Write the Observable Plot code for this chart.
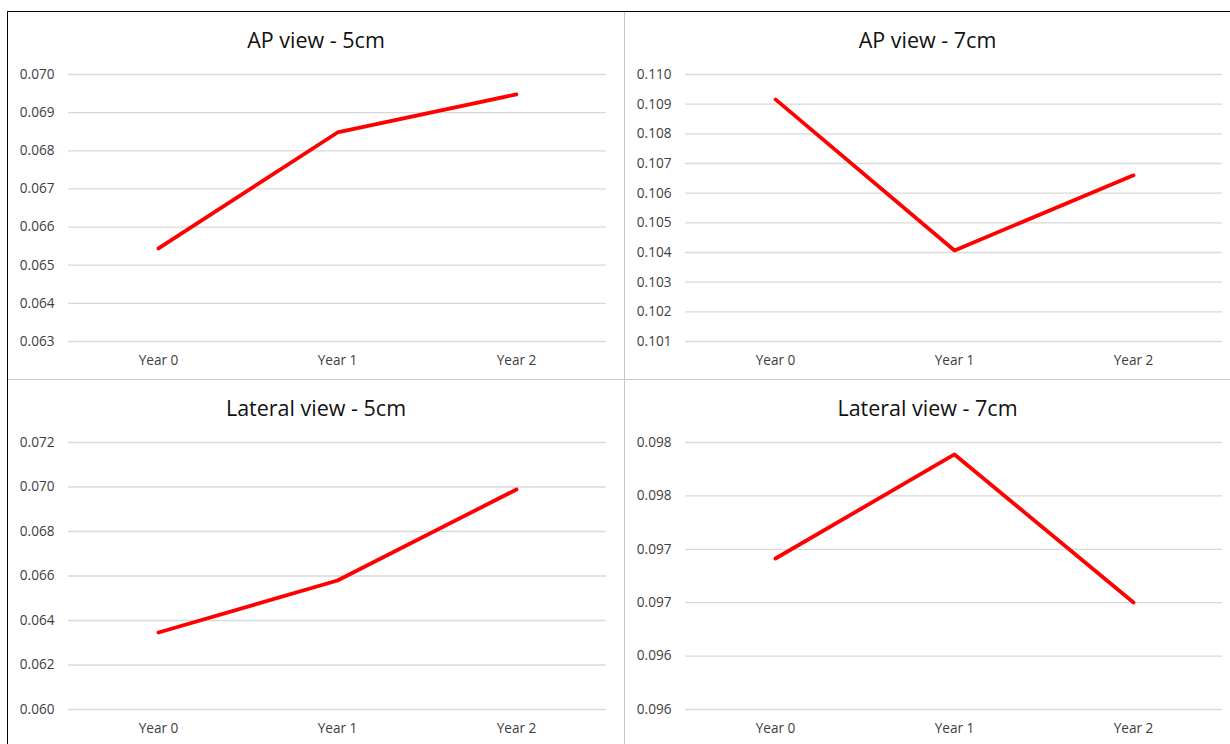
<!DOCTYPE html>
<html>
<head>
<meta charset="utf-8">
<script src="https://cdn.jsdelivr.net/npm/d3@7"></script>
<script src="https://cdn.jsdelivr.net/npm/@observablehq/plot@0.6"></script>
<style>
  html, body { margin: 0; padding: 0; background: #fff; }
  #page { position: relative; width: 1230px; height: 744px; overflow: hidden; background: #fff; font-family: "Open Sans", sans-serif; }
  .panel { position: absolute; }
  .title { position: absolute; left: 0; right: 0; text-align: center; font-size: 21.5px; line-height: 29px; color: #111; white-space: nowrap; }
  .rule { position: absolute; }
  svg { display: block; position: absolute; }
</style>
</head>
<body>
<div id="page"></div>
<script>
// ---- data ----
const categories = ["Year 0", "Year 1", "Year 2"];

const titles = ["AP view - 5cm", "AP view - 7cm", "Lateral view - 5cm", "Lateral view - 7cm"];

const apView5 = [0.06544, 0.06848, 0.06948];
const apView7 = [0.10916, 0.10407, 0.10660];
const latView5 = [0.06346, 0.06580, 0.06989];
const latView7 = [0.096914, 0.097888, 0.096502];

const apView5Ticks = [0.063, 0.064, 0.065, 0.066, 0.067, 0.068, 0.069, 0.070];
const apView5TickLabels = ["0.063", "0.064", "0.065", "0.066", "0.067", "0.068", "0.069", "0.070"];
const apView7Ticks = [0.101, 0.102, 0.103, 0.104, 0.105, 0.106, 0.107, 0.108, 0.109, 0.110];
const apView7TickLabels = ["0.101", "0.102", "0.103", "0.104", "0.105", "0.106", "0.107", "0.108", "0.109", "0.110"];
const latView5Ticks = [0.060, 0.062, 0.064, 0.066, 0.068, 0.070, 0.072];
const latView5TickLabels = ["0.060", "0.062", "0.064", "0.066", "0.068", "0.070", "0.072"];
const latView7Ticks = [0.0955, 0.0960, 0.0965, 0.0970, 0.0975, 0.0980];
const latView7TickLabels = ["0.096", "0.096", "0.097", "0.097", "0.098", "0.098"];

// ---- layout ----
const page = document.getElementById("page");

function addRule(style) {
  const d = document.createElement("div");
  d.className = "rule";
  Object.assign(d.style, style);
  page.appendChild(d);
}

const panels = [
  {title: titles[0], values: apView5, ticks: apView5Ticks, labels: apView5TickLabels, left: 8, top: 12, width: 616, height: 367, mr: 18, mb: 38},
  {title: titles[1], values: apView7, ticks: apView7Ticks, labels: apView7TickLabels, left: 625, top: 12, width: 605, height: 367, mr: 8, mb: 38},
  {title: titles[2], values: latView5, ticks: latView5Ticks, labels: latView5TickLabels, left: 8, top: 380, width: 616, height: 364, mr: 18, mb: 35},
  {title: titles[3], values: latView7, ticks: latView7Ticks, labels: latView7TickLabels, left: 625, top: 380, width: 605, height: 364, mr: 8, mb: 35}
];

const titleBlock = 50;

for (const p of panels) {
  const box = document.createElement("div");
  box.className = "panel";
  Object.assign(box.style, {left: p.left + "px", top: p.top + "px", width: p.width + "px", height: p.height + "px"});
  const t = document.createElement("div");
  t.className = "title";
  t.style.top = "13px";
  t.textContent = p.title;
  box.appendChild(t);

  const data = categories.map((c, i) => ({cat: c, v: p.values[i]}));
  const labelMap = new Map(p.ticks.map((d, i) => [d, p.labels[i]]));
  const svgH = p.height - titleBlock;

  const chart = Plot.plot({
    width: p.width,
    height: svgH,
    marginLeft: 60,
    marginRight: p.mr,
    marginTop: 12,
    marginBottom: p.mb,
    style: {fontFamily: "Open Sans, sans-serif", fontSize: "13.6px", color: "#404040", background: "transparent", overflow: "visible"},
    x: {type: "point", domain: categories, padding: 0.5, label: null},
    y: {domain: [d3.min(p.ticks), d3.max(p.ticks)], label: null},
    marks: [
      Plot.gridY(p.ticks, {stroke: "#d9d9d9", strokeOpacity: 1, strokeWidth: 1.3}),
      Plot.axisY(p.ticks, {tickSize: 0, tickPadding: 14, tickFormat: d => labelMap.get(d), fill: "#404040", label: null}),
      Plot.axisX({tickSize: 0, tickPadding: 14, fill: "#404040", label: null}),
      Plot.lineY(data, {x: "cat", y: "v", stroke: "#ff0000", strokeWidth: 3.8, strokeLinejoin: "round"})
    ]
  });
  chart.style.top = titleBlock + "px";
  chart.style.left = "0px";
  box.appendChild(chart);
  page.appendChild(box);
}

// frame & dividers
addRule({left: "7px", top: "11px", width: "1223px", height: "1px", background: "#000"});
addRule({left: "7px", top: "11px", width: "1px", height: "733px", background: "#000"});
addRule({left: "624px", top: "12px", width: "1px", height: "732px", background: "#c8c8c8"});
addRule({left: "8px", top: "379px", width: "1222px", height: "1px", background: "#c8c8c8"});
</script>
</body>
</html>
